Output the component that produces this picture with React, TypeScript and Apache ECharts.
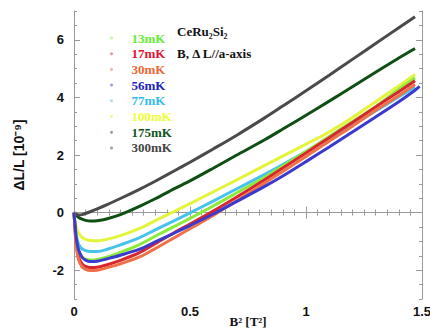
import React, { useEffect, useRef } from "react";
import * as echarts from "echarts";

// B^2 [T^2] sample positions
const xs = [0, 0.005, 0.01, 0.02, 0.035, 0.05, 0.07, 0.1, 0.14, 0.2, 0.28, 0.35, 0.435, 0.5, 0.6, 0.7, 0.82, 0.9, 1.0, 1.1, 1.2, 1.3, 1.4, 1.47, 1.49];

const seriesNames = ["13mK", "17mK", "30mK", "56mK", "77mK", "100mK", "175mK", "300mK"];
const lineColors = ["#8BEB3A", "#D8262E", "#F07048", "#3A3ACF", "#45C3EE", "#E2F53A", "#0F4F14", "#4A4A4A"];
const legendColors = ["#66EE33", "#DD1133", "#EE6633", "#2222BB", "#33BBEE", "#EEFF33", "#115522", "#444444"];

// ΔL/L [10^-9]
const y13 = [0, -0.55, -0.95, -1.35, -1.55, -1.62, -1.65, -1.63, -1.55, -1.38, -1.12, -0.82, -0.47, -0.2, 0.23, 0.68, 1.22, 1.62, 2.12, 2.64, 3.16, 3.68, 4.28, 4.68];
const y17 = [0, -0.6, -1.1, -1.55, -1.78, -1.87, -1.91, -1.9, -1.82, -1.66, -1.4, -1.08, -0.68, -0.4, 0.05, 0.53, 1.13, 1.55, 2.07, 2.6, 3.13, 3.67, 4.2, 4.58];
const y30 = [0, -0.7, -1.2, -1.65, -1.88, -1.97, -2.01, -2.0, -1.92, -1.78, -1.55, -1.25, -0.86, -0.56, -0.1, 0.4, 1.02, 1.43, 1.95, 2.48, 3.0, 3.55, 4.07, 4.45];
const y56 = [0, -0.5, -0.9, -1.3, -1.55, -1.65, -1.7, -1.69, -1.61, -1.48, -1.28, -1.02, -0.7, -0.45, -0.05, 0.38, 0.9, 1.27, 1.77, 2.28, 2.8, 3.32, 3.85, 4.25, 4.38];
const y77 = [0, -0.45, -0.8, -1.1, -1.26, -1.32, -1.35, -1.35, -1.28, -1.12, -0.88, -0.6, -0.27, -0.01, 0.4, 0.82, 1.32, 1.67, 2.12, 2.58, 3.05, 3.53, 4.02, 4.35];
const y100 = [0, -0.3, -0.5, -0.72, -0.86, -0.93, -0.97, -0.98, -0.93, -0.8, -0.56, -0.28, 0.05, 0.31, 0.72, 1.13, 1.63, 1.96, 2.38, 2.8, 3.3, 3.85, 4.4, 4.8];
const y175 = [0, -0.05, -0.1, -0.17, -0.23, -0.27, -0.29, -0.28, -0.22, -0.07, 0.21, 0.48, 0.84, 1.1, 1.54, 1.99, 2.52, 2.9, 3.38, 3.87, 4.37, 4.87, 5.37, 5.7];
const y300 = [0, -0.04, -0.06, -0.08, -0.07, -0.03, 0.03, 0.13, 0.27, 0.49, 0.8, 1.09, 1.46, 1.75, 2.21, 2.68, 3.28, 3.7, 4.23, 4.77, 5.32, 5.87, 6.42, 6.8];

const seriesValues = [y13, y17, y30, y56, y77, y100, y175, y300];
const drawOrder = [6, 7, 5, 4, 0, 1, 2, 3];

const xTicks = [0, 0.5, 1, 1.5];
const yMajorTicks = [-2, 0, 2, 4, 6];

const AXIS_GRAY = "#9a9a9a";
const SERIF = "Liberation Serif, 'Times New Roman', serif";
const SANS = "Liberation Sans, Arial, sans-serif";

export default function App() {
  const ref = useRef<HTMLDivElement>(null);

  useEffect(() => {
    document.body.style.margin = "0";
    if (!ref.current) return;
    const chart = echarts.init(ref.current, undefined, { renderer: "svg" });

    const labelFont = {
      fontFamily: SANS,
      fontWeight: "bold" as const,
      fontSize: 13,
      color: "#111",
    };

    const baseX = {
      type: "value" as const,
      min: xTicks[0],
      max: xTicks[xTicks.length - 1],
      interval: 0.5,
      splitLine: { show: false },
      axisLine: { show: true, lineStyle: { color: AXIS_GRAY, width: 1 } },
      axisTick: { show: true, inside: true, length: 6, lineStyle: { color: AXIS_GRAY } },
      minorTick: { show: true, splitNumber: 10, length: 3, lineStyle: { color: AXIS_GRAY } },
    };

    const baseY = {
      type: "value" as const,
      min: -3,
      max: 7,
      interval: 0.5,
      splitLine: { show: false },
    };

    const legendText = {
      fontFamily: SERIF,
      fontWeight: "bold" as const,
      fontSize: 13,
      lineHeight: 14,
    };

    const option: any = {
      animation: false,
      grid: { left: 74, right: 8, top: 11, bottom: 33, containLabel: false, outerBoundsMode: "none" },
      legend: {
        orient: "vertical",
        left: 105,
        top: 26,
        itemWidth: 30,
        itemHeight: 3,
        itemGap: 1.7,
        icon: "circle",
        selectedMode: false,
        itemStyle: { opacity: 0.5 },
        textStyle: legendText,
        data: seriesNames.map((n, i) => ({ name: n, textStyle: { ...legendText, color: legendColors[i] } })),
      },
      xAxis: [
        {
          ...baseX,
          position: "bottom",
          axisLabel: { ...labelFont, margin: 6, formatter: (v: number) => String(v) },
          name: "B² [T²]",
          nameLocation: "middle",
          nameGap: 16,
          nameMoveOverlap: false,
          nameTextStyle: {
            fontFamily: SERIF,
            fontWeight: "bold",
            fontSize: 13,
            color: "#111",
            verticalAlign: "top",
          },
        },
        {
          ...baseX,
          position: "top",
          axisLabel: { show: false },
        },
      ],
      yAxis: [
        {
          ...baseY,
          position: "left",
          axisLine: { show: true, lineStyle: { color: AXIS_GRAY, width: 1 } },
          axisTick: { show: true, inside: true, length: 3, lineStyle: { color: AXIS_GRAY } },
          axisLabel: {
            ...labelFont,
            margin: 10,
            formatter: (v: number) => (yMajorTicks.indexOf(v) >= 0 ? String(v) : ""),
          },
          name: "ΔL/L [10⁻⁹]",
          nameLocation: "middle",
          nameGap: 48,
          nameRotate: 90,
          nameTextStyle: {
            fontFamily: SANS,
            fontWeight: "bold",
            fontSize: 14,
            color: "#111",
          },
        },
        {
          ...baseY,
          position: "left",
          axisLine: { show: false },
          axisTick: { show: true, inside: true, length: 6, customValues: yMajorTicks, lineStyle: { color: AXIS_GRAY } },
          axisLabel: { show: false },
        },
        {
          ...baseY,
          position: "right",
          axisLine: { show: true, lineStyle: { color: AXIS_GRAY, width: 1 } },
          axisTick: { show: true, inside: true, length: 3, lineStyle: { color: AXIS_GRAY } },
          axisLabel: { show: false },
        },
        {
          ...baseY,
          position: "right",
          axisLine: { show: false },
          axisTick: { show: true, inside: true, length: 6, customValues: yMajorTicks, lineStyle: { color: AXIS_GRAY } },
          axisLabel: { show: false },
        },
      ],
      graphic: [
        {
          type: "text",
          left: 177,
          top: 25,
          style: {
            text: "CeRu₂Si₂",
            fontFamily: SERIF,
            fontWeight: "bold",
            fontSize: 13,
            fill: "#111",
          },
        },
        {
          type: "text",
          left: 177,
          top: 47,
          style: {
            text: "B, Δ L//a-axis",
            fontFamily: SERIF,
            fontWeight: "bold",
            fontSize: 13,
            fill: "#111",
          },
        },
      ],
      series: drawOrder.map((i) => ({
        name: seriesNames[i],
        type: "line",
        xAxisIndex: 0,
        yAxisIndex: 0,
        showSymbol: false,
        symbol: "circle",
        smooth: 0.3,
        color: lineColors[i],
        lineStyle: { width: 3, color: lineColors[i] },
        itemStyle: { color: lineColors[i] },
        data: seriesValues[i].map((v, k) => [xs[k], v]),
      })),
    };

    chart.setOption(option);
    return () => chart.dispose();
  }, []);

  return <div ref={ref} style={{ width: 430, height: 332 }} />;
}
